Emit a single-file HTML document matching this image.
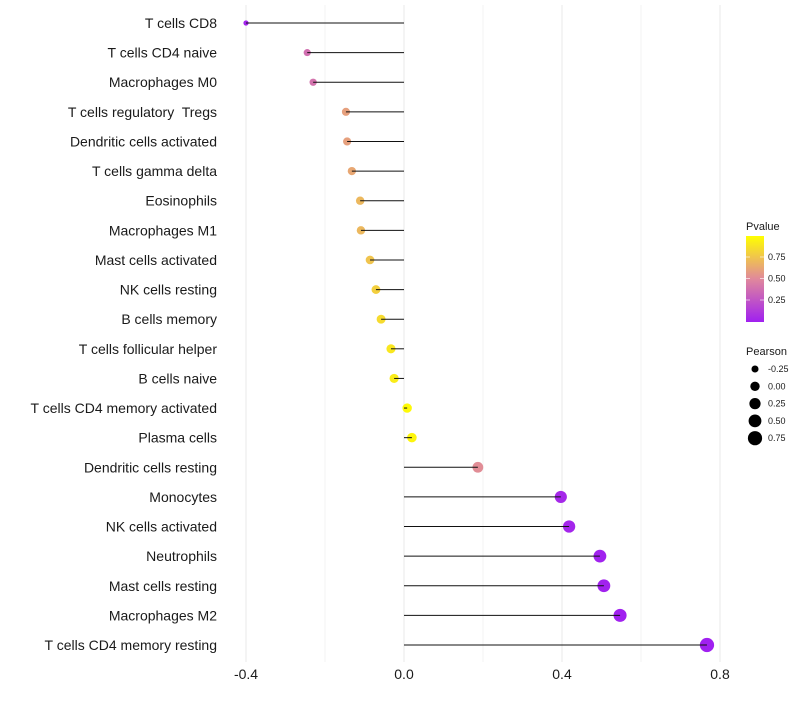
<!DOCTYPE html>
<html><head><meta charset="utf-8"><style>
body{margin:0;background:#fff;font-family:"Liberation Sans",sans-serif}
text{white-space:pre}
</style></head><body>
<svg id="chart" width="800" height="700" xmlns="http://www.w3.org/2000/svg" font-family="Liberation Sans, sans-serif">
<defs><linearGradient id="pg" x1="0" y1="1" x2="0" y2="0">
<stop offset="0" stop-color="#a020f0"/><stop offset="0.5" stop-color="#e0889c"/><stop offset="1" stop-color="#ffff00"/></linearGradient></defs>
<g id="grid"></g><g id="dots"></g><g id="marks"></g><g id="labels"></g><g id="legend"></g>
</svg>
<script>
const categories=["T cells CD8","T cells CD4 naive","Macrophages M0","T cells regulatory  Tregs","Dendritic cells activated","T cells gamma delta","Eosinophils","Macrophages M1","Mast cells activated","NK cells resting","B cells memory","T cells follicular helper","B cells naive","T cells CD4 memory activated","Plasma cells","Dendritic cells resting","Monocytes","NK cells activated","Neutrophils","Mast cells resting","Macrophages M2","T cells CD4 memory resting"];
const pearson=[-0.40,-0.245,-0.23,-0.147,-0.144,-0.132,-0.111,-0.109,-0.086,-0.071,-0.058,-0.033,-0.025,0.008,0.02,0.187,0.397,0.418,0.496,0.506,0.547,0.767];
const pvalue=[0.02,0.38,0.4,0.6,0.6,0.63,0.7,0.7,0.75,0.8,0.85,0.9,0.92,0.98,0.96,0.52,0.04,0.03,0.01,0.01,0.005,0.001];
const xTicks=[-0.4,0,0.4,0.8];
const xTickLabels=["-0.4","0.0","0.4","0.8"];
const colorTicks=[0.25,0.5,0.75];
const sizeTicks=[-0.25,0,0.25,0.5,0.75];
const NS="http://www.w3.org/2000/svg";
const xs=v=>404+v*395;
const ys=i=>23+i*(622/21);
const rs=v=>Math.sqrt(Math.max(1,22+38*v));
function lerp(a,b,t){return a+(b-a)*t}
function col(p){const s=[[160,32,240],[224,136,156],[255,255,0]];let a,b,t;if(p<0.5){a=s[0];b=s[1];t=p/0.5}else{a=s[1];b=s[2];t=(p-0.5)/0.5}
return `rgb(${[0,1,2].map(k=>Math.round(lerp(a[k],b[k],t))).join(',')})`}
function mk(tag,at,parent,txt){const e=document.createElementNS(NS,tag);for(const k in at)e.setAttribute(k,at[k]);if(txt!==undefined)e.textContent=txt;document.getElementById(parent).appendChild(e);return e}
[-0.4,-0.2,0,0.2,0.4,0.6,0.8].forEach(v=>{const g=mk('line',{x1:xs(v),x2:xs(v),y1:5,y2:662,stroke:'#ebebeb','stroke-width':Math.round(v*10)%4===0?1.1:0.6},'grid');

});
xTicks.forEach((v,i)=>{const t=mk('text',{x:xs(v),y:679,'text-anchor':'middle','font-size':14,fill:'#1a1a1a'},'labels',xTickLabels[i]);

});
categories.forEach((c,i)=>{const y=ys(i);
const t=mk('text',{x:217,y:y+5,'text-anchor':'end','font-size':14,fill:'#1a1a1a'},'labels',c);


const d=mk('circle',{cx:xs(pearson[i]),cy:y,r:rs(pearson[i]),fill:col(pvalue[i])},'dots');


const l=mk('line',{x1:xs(0),x2:xs(pearson[i]),y1:y,y2:y,stroke:'#111','stroke-width':1},'marks');

});
const lt=mk('text',{x:746,y:230,'font-size':11,fill:'#1a1a1a'},'legend','Pvalue');


const cb=mk('rect',{x:746,y:236,width:18,height:86,fill:'url(#pg)'},'legend');


colorTicks.forEach(v=>{const y=321.5-v*86;
const t=mk('text',{x:768,y:y+3,'font-size':9,fill:'#1a1a1a'},'legend',v.toFixed(2));


mk('line',{x1:746,x2:750,y1:y,y2:y,stroke:'#fff','stroke-width':0.6},'legend');
mk('line',{x1:760,x2:764,y1:y,y2:y,stroke:'#fff','stroke-width':0.6},'legend');});
const st=mk('text',{x:746,y:355,'font-size':11,fill:'#1a1a1a'},'legend','Pearson');


sizeTicks.forEach((v,i)=>{const y=369+i*17.3;
const c=mk('circle',{cx:755,cy:y,r:rs(v),fill:'#000'},'legend');


const t=mk('text',{x:768,y:y+3,'font-size':9,fill:'#1a1a1a'},'legend',v.toFixed(2));

});
</script>
</body></html>
